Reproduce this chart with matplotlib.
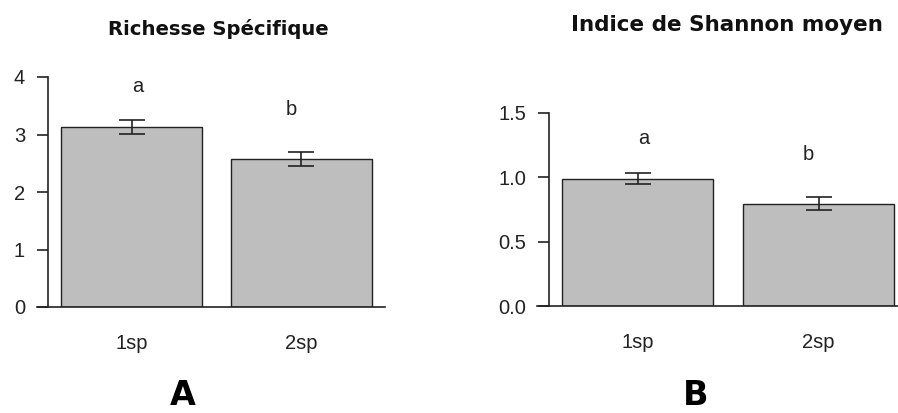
import matplotlib
matplotlib.use("Agg")
import matplotlib.pyplot as plt

W, H = 898, 413
DPI = 100

groups = ["1sp", "2sp"]
rich_mean = [3.13, 2.57]
rich_se = [0.12, 0.12]
shan_mean = [0.99, 0.795]
shan_se = [0.04, 0.05]
letters = ["a", "b"]
rich_letter_y = [3.83, 3.44]
shan_letter_y = [1.30, 1.18]
rich_yticks = [0, 1, 2, 3, 4]
shan_yticks = [0.0, 0.5, 1.0, 1.5]
shan_yticklabels = ["0.0", "0.5", "1.0", "1.5"]

BAR_COLOR = "#bebebe"
LINE = "#222222"
TICKFONT = "Liberation Sans"
TICK_FS = 14.5

fig = plt.figure(figsize=(W / DPI, H / DPI), dpi=DPI)
fig.patch.set_facecolor("white")

px2pt = 72.0 / DPI


def make_panel(rect_px, xlim, ylim, spine_frac, means, ses, lety, yticks, yticklabels, tick_fs):
    l, r, t, b = rect_px
    ax = fig.add_axes([l / W, (H - b) / H, (r - l) / W, (b - t) / H])
    x = [0.7, 1.9]
    ax.bar(x, means, width=1.0, color=BAR_COLOR, edgecolor=LINE, linewidth=1.0, zorder=2)
    ax.errorbar(x, means, yerr=ses, fmt="none", ecolor=LINE, elinewidth=1.2,
                capsize=13 * px2pt, capthick=1.2, zorder=3, clip_on=False)
    for xi, yi, s in zip([0.74, 1.83], lety, letters):
        ax.text(xi, yi, s, ha="center", va="center", fontsize=tick_fs,
                family=TICKFONT, color="#222222", clip_on=False)
    ax.set_xlim(*xlim)
    ax.set_ylim(*ylim)
    for s in ["top", "right"]:
        ax.spines[s].set_visible(False)
    ax.spines["left"].set_position(("axes", spine_frac))
    ax.spines["left"].set_color(LINE)
    ax.spines["bottom"].set_color(LINE)
    ax.spines["left"].set_linewidth(1.2)
    ax.spines["bottom"].set_linewidth(1.2)
    ax.set_yticks(yticks)
    ax.set_yticklabels(yticklabels, family=TICKFONT, fontsize=tick_fs, color="#222222")
    ax.tick_params(axis="y", direction="out", length=11 * px2pt, width=1.2,
                   pad=12 * px2pt, colors=LINE)
    ax.set_xticks(x)
    ax.set_xticklabels(groups, family=TICKFONT, fontsize=tick_fs, color="#222222")
    ax.tick_params(axis="x", length=0, pad=27 * px2pt)
    ax.patch.set_alpha(0)
    return ax


make_panel((37, 385, 77, 307), (0.031, 2.4915), (0, 4), 11 / 348,
           rich_mean, rich_se, rich_letter_y, rich_yticks, [str(v) for v in rich_yticks], TICK_FS)
make_panel((537, 898, 113, 306), (0.034, 2.425), (0, 1.5), 12 / 361,
           shan_mean, shan_se, shan_letter_y, shan_yticks, shan_yticklabels, TICK_FS)

fig.text(218 / W, 1 - 29 / H, "Richesse Spécifique", ha="center", va="center",
         fontsize=14.1, fontweight="bold", family="DejaVu Sans", color="#111111")
fig.text(727 / W, 1 - 25 / H, "Indice de Shannon moyen", ha="center", va="center",
         fontsize=15.5, fontweight="bold", family="DejaVu Sans", color="#111111")
fig.text(183 / W, 1 - 405 / H, "A", ha="center", va="baseline",
         fontsize=24, fontweight="bold", family="DejaVu Sans", color="black")
fig.text(696 / W, 1 - 405 / H, "B", ha="center", va="baseline",
         fontsize=24, fontweight="bold", family="DejaVu Sans", color="black")

fig.savefig("out.png", dpi=DPI, facecolor="white")
